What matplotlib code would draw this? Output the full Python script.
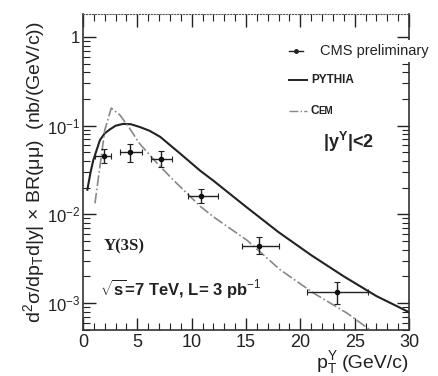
import matplotlib
matplotlib.use("Agg")
import matplotlib.pyplot as plt
from matplotlib.ticker import FixedLocator, FixedFormatter, LogLocator, MultipleLocator, NullFormatter
import numpy as np

plt.rcParams['font.family'] = ['Liberation Sans', 'DejaVu Sans']
plt.rcParams['mathtext.fontset'] = 'custom'
plt.rcParams['mathtext.rm'] = 'Liberation Sans'
plt.rcParams['mathtext.it'] = 'Liberation Sans'
plt.rcParams['mathtext.bf'] = 'Liberation Sans:bold'

# ---- data ----
cms_pt = [1.9, 4.3, 7.2, 10.9, 16.2, 23.4]
cms_xs = [0.046, 0.051, 0.042, 0.0163, 0.0044, 0.00135]
cms_pt_lo = [1.1, 3.4, 6.3, 9.7, 14.6, 20.6]
cms_pt_hi = [2.6, 5.4, 8.2, 12.4, 18.0, 26.2]
cms_xs_lo = [0.038, 0.039, 0.034, 0.0134, 0.0036, 0.00098]
cms_xs_hi = [0.055, 0.063, 0.052, 0.0193, 0.0055, 0.00175]

pythia_pt = [0.4, 0.7, 0.95, 1.56, 2.0, 2.48, 3.0, 3.7, 4.4, 5.2, 6.1, 7.1, 8.9, 10.8, 12.0,
             15.0, 18.0, 21.0, 24.0, 27.0, 30.0]
pythia_xs = [0.019, 0.030, 0.041, 0.069, 0.082, 0.091, 0.100, 0.105, 0.104, 0.097, 0.088, 0.075,
             0.049, 0.031, 0.024, 0.0122, 0.0063, 0.00347, 0.0020, 0.0012, 0.00079]

cem_pt = [1.1, 1.56, 2.0, 2.6, 3.4, 4.3, 5.2, 6.8, 8.3, 10.8, 12.0, 15.1, 18.1, 21.2, 24.3, 26.4]
cem_xs = [0.0133, 0.035, 0.089, 0.158, 0.132, 0.093, 0.063, 0.038, 0.0245, 0.0123, 0.0094,
          0.0051, 0.0024, 0.0013, 0.00077, 0.0005]

yticks = [1e-3, 1e-2, 1e-1, 1]
ytick_labels = ['10$^{-3}$', '10$^{-2}$', '10$^{-1}$', '1']
xticks = [0, 5, 10, 15, 20, 25, 30]

fig = plt.figure(figsize=(4.39, 3.76), dpi=100)
ax = fig.add_axes([83/439, 46/376, 326/439, 316/376])

ax.plot(pythia_pt, pythia_xs, color='#222222', lw=1.5, zorder=3)
ax.plot(cem_pt, cem_xs, color='#888888', lw=1.2, ls='-.', zorder=3)

xerr = [np.array(cms_pt) - np.array(cms_pt_lo), np.array(cms_pt_hi) - np.array(cms_pt)]
yerr = [np.array(cms_xs) - np.array(cms_xs_lo), np.array(cms_xs_hi) - np.array(cms_xs)]
ax.errorbar(cms_pt, cms_xs, xerr=xerr, yerr=yerr, fmt='o', ms=3, color='#111111',
            ecolor='#222222', elinewidth=1.0, capsize=2, capthick=0.8, zorder=4)

ax.set_yscale('log')
ax.set_xlim(0, 30)
ax.set_ylim(4.97e-4, 1.82)
ax.yaxis.set_major_locator(FixedLocator(yticks))
ax.yaxis.set_major_formatter(FixedFormatter(ytick_labels))
ax.yaxis.set_minor_locator(LogLocator(base=10, subs=np.arange(2, 10)))
ax.yaxis.set_minor_formatter(NullFormatter())
ax.set_xticks(xticks)
ax.xaxis.set_minor_locator(MultipleLocator(1))

ax.tick_params(which='both', direction='in', top=True, right=True, colors='#222222')
ax.tick_params(which='major', length=9, width=1.0)
ax.tick_params(which='minor', length=5, width=0.8)
ax.tick_params(axis='x', which='major', labelsize=13, pad=3)
ax.tick_params(axis='y', which='major', labelsize=12, pad=2)

for s in ['left', 'right', 'bottom']:
    ax.spines[s].set_color('#333333')
    ax.spines[s].set_linewidth(1.2)
ax.spines['top'].set_linestyle(':')
ax.spines['top'].set_color('#555555')

ax.set_ylabel(r'd$^2\sigma$/dp$_T$d|y| $\times$ BR($\mu\mu$)  (nb/(GeV/c))', fontsize=14, color='#222222')
ax.yaxis.set_label_coords(-0.11, 0.5)
fig.text(409/439, 1 - 368/376, '(GeV/c)', fontsize=14, color='#222222', ha='right', va='baseline')
fig.text(338/439, 1 - 368/376, r'p$_T^{\Upsilon}$', fontsize=14, color='#222222', ha='right', va='baseline')

# legend (manual)
ax.plot([289/439, 303/439], [1 - 51/376] * 2, transform=fig.transFigure, color='#222222', lw=1, clip_on=False)
ax.plot([296/439], [1 - 51/376], transform=fig.transFigure, marker='o', ms=2.5, color='#222222', clip_on=False)
fig.text(320/439, 1 - 51/376, 'CMS preliminary', fontsize=10.5, va='center', ha='left', color='#222222',
         bbox=dict(facecolor='white', edgecolor='none', pad=3), zorder=10)
ax.plot([289/439, 307/439], [1 - 80/376] * 2, transform=fig.transFigure, color='#222222', lw=1.4, clip_on=False)
fig.text(311/439, 1 - 80/376, 'PYTHIA', fontsize=8.5, fontweight='bold', va='center', ha='left', color='#222222')
ax.plot([289/439, 307/439], [1 - 111/376] * 2, transform=fig.transFigure, color='#888888', lw=1.0, ls='-.', clip_on=False)
fig.text(311/439, 1 - 111/376, 'C', fontsize=8.5, fontweight='bold', va='center', ha='left', color='#222222')
fig.text(318/439, 1 - 111.5/376, 'EM', fontsize=7, fontweight='bold', va='center', ha='left', color='#222222')

fig.text(323/439, 1 - 142/376, r'|y$^{\mathbf{\Upsilon}}$|<2', fontsize=13, fontweight='bold', va='center', ha='left', color='#222222')
fig.text(104/439, 1 - 246/376, 'Υ(3S)', fontsize=12, fontweight='bold', family=['Liberation Serif', 'DejaVu Serif'],
         va='center', ha='left', color='#222222')
fig.text(100/439, 1 - 289/376, r'$\sqrt{\mathbf{s}}$=7 TeV, L= 3 pb$^{-1}$', fontsize=12, fontweight='bold',
         va='center', ha='left', color='#222222')

fig.savefig('out.png', dpi=100)
